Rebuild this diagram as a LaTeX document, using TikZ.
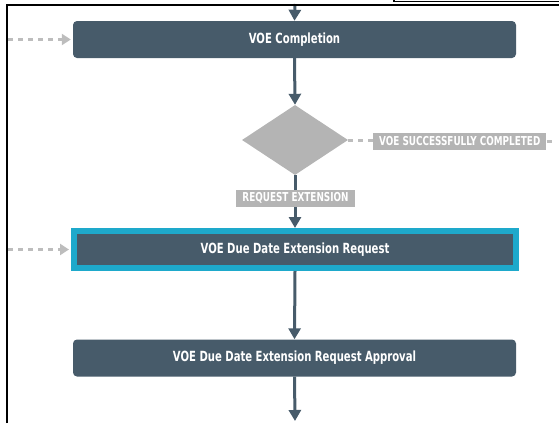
\documentclass[tikz,border=0pt]{standalone}
\usepackage{fontspec}
\setmainfont{DejaVu Sans Condensed}[FakeStretch=0.8]
\usetikzlibrary{shapes.geometric,arrows.meta}
\definecolor{slate}{HTML}{475B6A}
\definecolor{hlcyan}{HTML}{1EA9CB}
\definecolor{dgray}{HTML}{B4B4B4}
\definecolor{lgray}{HTML}{BDBDBD}
\tikzset{
  stepbox/.style={rectangle, rounded corners=4pt, fill=slate, text=white,
    font=\bfseries\fontsize{14}{16}\selectfont, minimum width=443pt,
    minimum height=37pt, inner sep=0pt},
  activebox/.style={rectangle, fill=slate, draw=hlcyan, line width=6pt, text=white,
    font=\bfseries\fontsize{14}{16}\selectfont, minimum width=442pt,
    minimum height=37pt, inner sep=0pt},
  decision/.style={diamond, fill=dgray, minimum width=106pt, minimum height=70pt,
    inner sep=0pt},
  tag/.style={rectangle, fill=dgray, text=white,
    font=\bfseries\fontsize{12.3}{14}\selectfont, inner xsep=6pt, inner ysep=0pt,
    minimum height=17pt},
  flow/.style={draw=slate, line width=3pt, -{Triangle[width=12pt,length=11pt]}},
  sideflow/.style={draw=lgray, line width=3pt, dash pattern=on 5pt off 5pt},
  sidein/.style={sideflow, -{Triangle[width=11pt,length=9pt,fill=lgray]}, shorten >=2pt},
}
\begin{document}
\begin{tikzpicture}[x=1pt,y=-1pt]
\useasboundingbox (0,0) rectangle (559,423);

% process steps
\node[stepbox] (done) at (294.5,39.5) {VOE Completion};
\node[decision] (check) at (295,140) {};
\node[activebox] (req) at (295,249.5) {VOE Due Date Extension Request};
\node[stepbox] (appr) at (294.5,358) {VOE Due Date Extension Request Approval};

% entry and exit points
\coordinate (topin) at (295,4);
\coordinate (botout) at (295,421);
\coordinate (leftin1) at (8,39.5);
\coordinate (leftin2) at (8,249.5);
\coordinate (rightout) at (556,141);

% main flow
\draw[flow] (topin) -- (done.north);
\draw[flow] (done.south) -- (check.north);
\draw[flow] (check.south) -- (req.north);
\node[tag] (ext) at (295.5,198) {REQUEST EXTENSION};
\draw[flow] (req.south) -- (appr.north);
\draw[flow] (appr.south) -- (botout);

% side flows
\draw[sidein] (leftin1) -- (done.west);
\draw[sidein] (leftin2) -- (req.west);
\node[tag, anchor=west] (ok) at (373,141.5) {VOE SUCCESSFULLY COMPLETED};
\draw[sideflow] (check.east) -- (check.east -| ok.west);
\draw[sideflow] (ok.east |- rightout) -- (rightout);

% frame
\draw[line width=2pt] (6.5,423) -- (6.5,5) -- (559,5);
\draw[line width=1.3pt] (394,0) -- (394,1.3) -- (559,1.3);
\end{tikzpicture}
\end{document}
